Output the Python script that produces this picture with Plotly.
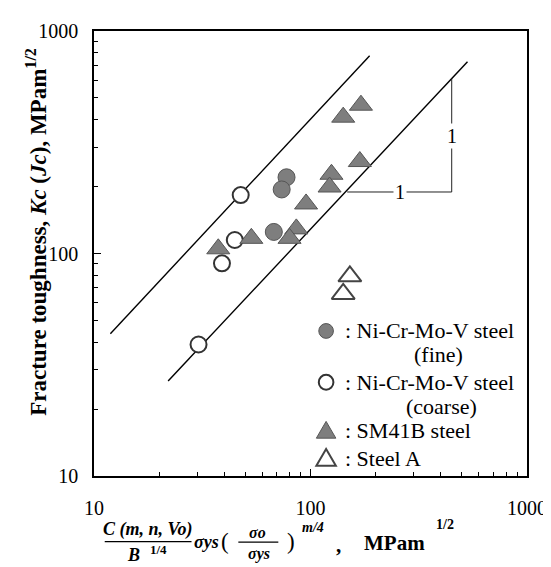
import math
import plotly.graph_objects as go

# ---------------- data ----------------
fine_x = [77.5, 73.6, 67.7]
fine_y = [220, 194, 125]
coarse_x = [47.6, 44.7, 39.0, 30.4]
coarse_y = [183, 115, 90.3, 39.0]
sm41b_x = [37.5, 53.3, 86.0, 80.0, 95.4, 125, 122.5, 171, 141.6, 169]
sm41b_y = [105, 117, 129, 117, 167, 227, 199, 464, 410, 259]
steelA_x = [152, 141.6]
steelA_y = [79, 65.8]
upper_x = [11.9, 187.6]
upper_y = [43.6, 774]
lower_x = [22.0, 531]
lower_y = [26.7, 728]
slope_x = [147.7, 449, 449]
slope_y = [189, 189, 612]
slope_label_x = [259, 449]
slope_label_y = [189, 339]
slope_labels = ["1", "1"]
tick_vals = [10, 100, 1000]
tick_text = ["10", "100", "1000"]
series_names = ["Ni-Cr-Mo-V steel (fine)", "Ni-Cr-Mo-V steel (coarse)",
                "SM41B steel", "Steel A"]
legend_line1 = [": Ni-Cr-Mo-V steel", ": Ni-Cr-Mo-V steel", ": SM41B steel", ": Steel A"]
legend_line2 = ["(fine)", "(coarse)", "", ""]

# ---------------- layout geometry (pixels) ----------------
W, H = 551, 567
L, R, T, B = 86, 530, 17, 468
FONT = "Liberation Serif"
GRAY = "#7e7e7e"
EDGE = "#555555"
OPEN_EDGE = "#333333"


def px(x):
    return (x - L) / (R - L)


def py(y):
    return (B - y) / (B - T)


fig = go.Figure()
line_style = dict(color="black", width=1.4)
fig.add_trace(go.Scatter(x=upper_x, y=upper_y, mode="lines", line=line_style,
                         showlegend=False, hoverinfo="skip"))
fig.add_trace(go.Scatter(x=lower_x, y=lower_y, mode="lines", line=line_style,
                         showlegend=False, hoverinfo="skip"))
fig.add_trace(go.Scatter(x=slope_x, y=slope_y, mode="lines",
                         line=dict(color="#222222", width=1),
                         showlegend=False, hoverinfo="skip"))

styles = [
    dict(symbol="circle", size=17, color=GRAY, line=dict(color=EDGE, width=1)),
    dict(symbol="circle", size=16, color="white", line=dict(color=OPEN_EDGE, width=2)),
    dict(symbol="triangle-up", size=20, color=GRAY, line=dict(color=EDGE, width=1)),
    dict(symbol="triangle-up", size=20, color="white", line=dict(color="#444444", width=2)),
]
for xs, ys, nm, st in zip([fine_x, coarse_x, sm41b_x, steelA_x],
                          [fine_y, coarse_y, sm41b_y, steelA_y],
                          series_names, styles):
    fig.add_trace(go.Scatter(x=xs, y=ys, mode="markers", name=nm, marker=st,
                             showlegend=False))

# log axes: annotation positions are given in log10 units
for lx, ly, lt in zip(slope_label_x, slope_label_y, slope_labels):
    fig.add_annotation(x=math.log10(lx), y=math.log10(ly), xref="x", yref="y",
                       text=lt, showarrow=False, bgcolor="white", borderpad=1,
                       font=dict(family=FONT, size=20, color="black"))

minor_vals = [k * 10 ** d for d in (1, 2) for k in range(2, 10)]
axis_common = dict(
    type="log", showgrid=False, zeroline=False,
    showline=True, linecolor="black", linewidth=1.6, mirror=True,
    ticks="inside", ticklen=7, tickwidth=1, tickcolor="black",
    tickvals=tick_vals, ticktext=tick_text,
    tickfont=dict(family=FONT, size=20, color="black"),
    minor=dict(tickvals=minor_vals, ticks="inside", ticklen=4, tickwidth=1,
               tickcolor="black", showgrid=False),
)
fig.update_xaxes(range=[1, 3], ticklabelstandoff=13, **axis_common)
fig.update_yaxes(range=[1, 3], ticklabelstandoff=10, **axis_common)


def ann(text, x, y, size, xanchor="center", **kw):
    fig.add_annotation(text=text, x=px(x), y=py(y), xref="paper", yref="paper",
                       showarrow=False, xanchor=xanchor, yanchor="middle",
                       font=dict(family=FONT, size=size, color="black"), **kw)


# ---- legend (drawn inside the plot, like the reference) ----
leg_sym_x = 324
leg_text_x = 341
leg_rows = [(321, 345), (373, 398), (422, None), (450, None)]
leg_second_x = [412, 404]
for i, ((y1, y2), st) in enumerate(zip(leg_rows, styles)):
    ann(legend_line1[i], leg_text_x, y1, 22, xanchor="left")
    if y2 is not None:
        ann(legend_line2[i], leg_second_x[i], y2, 22, xanchor="left")
    fill = st["color"]
    edge = st["line"]["color"]
    lw = st["line"]["width"]
    if st["symbol"] == "circle":
        r = 7.5
        fig.add_shape(type="circle", xref="paper", yref="paper",
                      x0=px(leg_sym_x - r), x1=px(leg_sym_x + r),
                      y0=py(y1 + r), y1=py(y1 - r),
                      fillcolor=fill, line=dict(color=edge, width=lw))
    else:
        hw, ht = 10, 17
        yb = y1 + ht * 0.45
        path = "M {:.5f},{:.5f} L {:.5f},{:.5f} L {:.5f},{:.5f} Z".format(
            px(leg_sym_x - hw), py(yb), px(leg_sym_x + hw), py(yb),
            px(leg_sym_x), py(yb - ht))
        fig.add_shape(type="path", xref="paper", yref="paper", path=path,
                      fillcolor=fill, line=dict(color=edge, width=lw))

# ---- x-axis title (formula) ----
ann("<b><i>C (m, n, Vo)</i></b>", 141, 522, 18)
ann("<b><i>B</i></b>", 127, 548, 18)
ann("<b>1/4</b>", 152, 542, 13)
ann("<b><i>σys</i></b>", 201, 535, 18)
ann("(", 220, 534, 23)
ann("<b><i>σo</i></b>", 254, 525, 16)
ann("<b><i>σys</i></b>", 255, 547, 16)
ann(")", 288, 534, 23)
ann("<b><i>m/4</i></b>", 311, 520, 14)
ann("<b>,</b>", 337, 538, 21)
ann("<b>MPam</b>", 394, 536, 21)
ann("<b>1/2</b>", 446, 517, 14)

for x0, x1, y0 in [(97, 186, 534.5), (234, 275, 535)]:
    fig.add_shape(type="line", xref="paper", yref="paper",
                  x0=px(x0), x1=px(x1), y0=py(y0), y1=py(y0),
                  line=dict(color="black", width=1.2))

# ---- y-axis title ----
ann("<b>Fracture toughness, <i>Kc</i> (<i>Jc</i>), MPam<sup>1/2</sup></b>",
    27, 220, 23, textangle=-90)

fig.update_layout(
    width=W, height=H,
    margin=dict(l=L, r=W - R, t=T, b=H - B, pad=0),
    plot_bgcolor="white", paper_bgcolor="white",
    showlegend=False,
)

fig.write_html("out.html")
